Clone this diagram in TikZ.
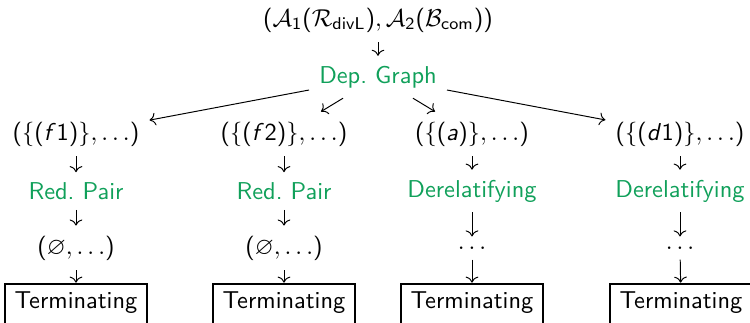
\documentclass[tikz,border=0pt]{standalone}
\usepackage{amsmath, amssymb}
\usepackage{tikz}
\usetikzlibrary{positioning}
\usetikzlibrary{arrows.meta}
\renewcommand{\familydefault}{\sfdefault}
% sans digits and letters in math, as on slides
\DeclareSymbolFont{operators}{OT1}{cmss}{m}{n}
\DeclareSymbolFont{sfletters}{OT1}{cmss}{m}{sl}
\DeclareMathSymbol{a}{\mathalpha}{sfletters}{`a}
\DeclareMathSymbol{d}{\mathalpha}{sfletters}{`d}
\DeclareMathSymbol{f}{\mathalpha}{sfletters}{`f}
\definecolor{proccol}{RGB}{16,160,90}
\tikzset{>=To}
\tikzset{
  prob/.style={inner sep=4pt},
  proc/.style={inner sep=4pt, text=proccol},
  done/.style={draw, thick, inner xsep=3.8pt, inner ysep=3pt, text height=7pt, text depth=4.5pt}
}

\begin{document}
\begin{tikzpicture}[x=0.41pt, y=-0.41pt]
    % canvas (y runs downwards)
    \useasboundingbox (0,0) rectangle (750,322);

    % 1. Start problem and the dependency graph
    \node[prob] (top) at (378,20) {$(\mathcal{A}_1(\mathcal{R}_{\mathsf{divL}}), \mathcal{A}_2(\mathcal{B}_{\mathsf{com}}))$};
    \node[proc] (dg) at (378,77) {Dep.\ Graph};
    \draw[->] (top) -- (dg);

    % 2. One problem per SCC
    \node[prob] (p1) at (76,134) {$(\{(f1)\}, \ldots)$};
    \node[prob] (p2) at (284,134) {$(\{(f2)\}, \ldots)$};
    \node[prob] (p3) at (472,134) {$(\{(a)\}, \ldots)$};
    \node[prob] (p4) at (680,134) {$(\{(d1)\}, \ldots)$};
    \foreach \i in {1,...,4}
        \draw[->] (dg) -- (p\i);

    % 3. Processor applied to each of them
    \node[proc] (m1) at (76,191) {Red.\ Pair};
    \node[proc] (m2) at (284,191) {Red.\ Pair};
    \node[proc] (m3) at (472,191) {Derelatifying};
    \node[proc] (m4) at (680,191) {Derelatifying};

    % 4. What is left
    \node[prob] (r1) at (76,248) {$(\varnothing, \ldots)$};
    \node[prob] (r2) at (284,248) {$(\varnothing, \ldots)$};
    \node[prob] (r3) at (472,248) {$\ldots$};
    \node[prob] (r4) at (680,248) {$\ldots$};

    % 5. Result boxes
    \node[done] (t1) at (76,305) {Terminating};
    \node[done] (t2) at (284,305) {Terminating};
    \node[done] (t3) at (472,305) {Terminating};
    \node[done] (t4) at (681,305) {Terminating};

    \foreach \i in {1,...,4} {
        \draw[->] (p\i) -- (m\i);
        \draw[->] (m\i) -- (r\i);
        \draw[->] (r\i) -- (t\i);
    }
\end{tikzpicture}
\end{document}
